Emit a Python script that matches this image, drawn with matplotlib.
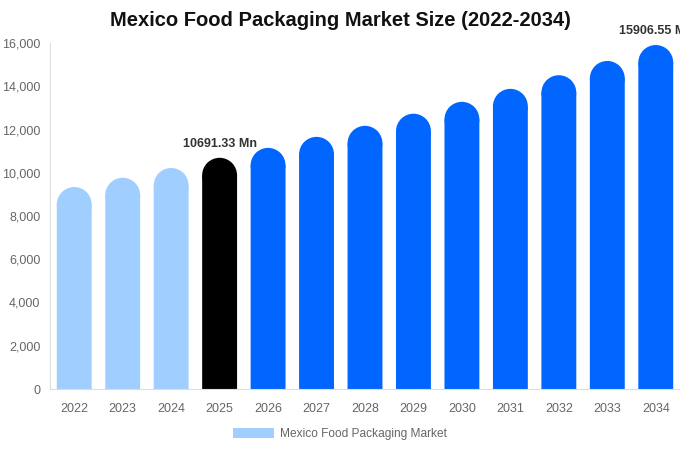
import matplotlib.pyplot as plt
from matplotlib.patches import Ellipse, Patch

years = ['2022', '2023', '2024', '2025', '2026', '2027', '2028',
         '2029', '2030', '2031', '2032', '2033', '2034']
values = [9340, 9770, 10220, 10691.33, 11150, 11660, 12170,
          12730, 13280, 13880, 14510, 15170, 15906.55]
colors = ['#a0cfff'] * 3 + ['#000000'] + ['#0066ff'] * 9
labels = {3: '10691.33 Mn', 12: '15906.55 Mn'}

plt.rcParams['font.family'] = ['Liberation Sans', 'DejaVu Sans']

fig = plt.figure(figsize=(6.8, 4.5), dpi=100)
# axes in pixels: left 50, right 680, top 43, bottom 389
ax = fig.add_axes([50 / 680, (450 - 389) / 450, 630 / 680, (389 - 43) / 450])
ax.set_xlim(-0.5, len(years) - 0.5)
ax.set_ylim(0, 16000)

bw = 0.72
ax_w_px = 630
ax_h_px = 389 - 43
r_px = bw / len(years) * ax_w_px / 2
r_data = r_px / ax_h_px * 16000

x = list(range(len(years)))
bars = ax.bar(x, [v - r_data for v in values], width=bw, color=colors,
              linewidth=0, zorder=2)
for b in bars:
    b.set_snap(False)
# rounded caps
for i, v in enumerate(values):
    ax.add_patch(Ellipse((i, v - r_data), bw, 2 * r_data,
                         facecolor=colors[i], linewidth=0, zorder=2))

for i, txt in labels.items():
    ax.text(i, values[i] + 380, txt, ha='center', va='bottom',
            fontsize=9, fontweight='bold', color='#333333', clip_on=False)

ax.set_xticks(x)
ax.set_xticklabels(years)
ax.set_yticks(range(0, 16001, 2000))
ax.set_yticklabels([f'{t:,}' for t in range(0, 16001, 2000)])
ax.tick_params(axis='both', length=0, labelsize=9, colors='#666666')
ax.tick_params(axis='x', pad=10)
ax.tick_params(axis='y', pad=7)

for s in ['top', 'right']:
    ax.spines[s].set_visible(False)
for s in ['left', 'bottom']:
    ax.spines[s].set_color('#dddddd')

fig.text(340 / 680, 1 - 21 / 450, 'Mexico Food Packaging Market Size (2022-2034)',
         ha='center', va='center', fontsize=14.5, fontweight='bold', color='#111111')

fig.legend(handles=[Patch(facecolor='#a0cfff', label='Mexico Food Packaging Market')],
           loc='center', bbox_to_anchor=(340 / 680, 1 - 434 / 450), frameon=False,
           fontsize=8.6, handlelength=3.4, handleheight=0.9, handletextpad=0.5,
           labelcolor='#666666')

fig.savefig('out.png', dpi=100)
